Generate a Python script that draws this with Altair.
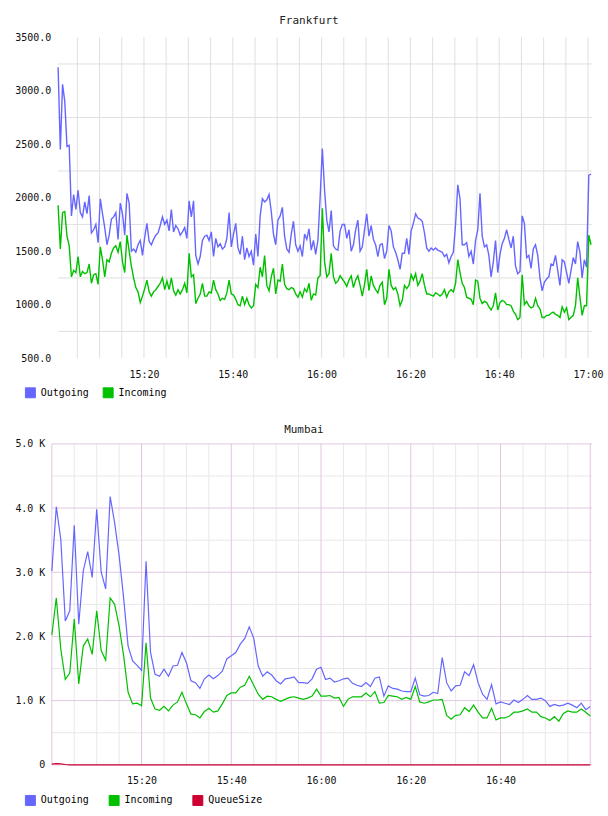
import altair as alt
import pandas as pd

FONT = "DejaVu Sans Mono"
TEXT = "#111111"
GRID = "#e0e0e0"
MINOR = "#e8e8e8"
PINK = "#e2c6e2"

COLORS = {"Outgoing": "#6666ff", "Incoming": "#00c000", "QueueSize": "#cc0033"}

# ---- Frankfurt: 30-second samples, first one at 15:00:40 ----
FRA_FIRST_MIN = 40 / 60
FRA_STEP_MIN = 0.5
FRA_OUT = [
    3220, 2450, 3060, 2900, 2480, 2490, 1830, 2030, 1890, 2070,
    1860, 1820, 1960, 1850, 2020, 1670, 1700, 1750, 1580, 1990,
    1850, 1720, 1560, 1650, 1800, 1820, 1860, 1610, 1950, 1850,
    1650, 2040, 1950, 1500, 1520, 1490, 1560, 1600, 1460, 1630,
    1760, 1590, 1560, 1610, 1650, 1670, 1740, 1820, 1750, 1790,
    1690, 1890, 1680, 1740, 1710, 1650, 1680, 1720, 1620, 1970,
    1820, 1970, 1460, 1380, 1450, 1600, 1640, 1650, 1600, 1680,
    1450, 1620, 1540, 1570, 1520, 1540, 1620, 1860, 1540, 1660,
    1760, 1530, 1470, 1640, 1420, 1530, 1450, 1500, 1370, 1660,
    1450, 1830, 1990, 1960, 1980, 2030, 1870, 1660, 1560, 1790,
    1830, 1910, 1640, 1520, 1490, 1660, 1780, 1560, 1500, 1550,
    1450, 1660, 1610, 1710, 1510, 1600, 1470, 1600, 2000, 2460,
    2070, 1790, 1680, 1880, 1550, 1520, 1510, 1690, 1750, 1750,
    1620, 1700, 1500, 1560, 1700, 1790, 1500, 1540, 1700, 1850,
    1640, 1740, 1610, 1560, 1450, 1560, 1570, 1430, 1500, 1740,
    1690, 1540, 1490, 1420, 1330, 1480, 1480, 1620, 1470, 1690,
    1760, 1850, 1810, 1800, 1780, 1670, 1530, 1500, 1530, 1510,
    1530, 1510, 1500, 1490, 1450, 1470, 1390, 1450, 1490, 1750,
    2120, 1990, 1560, 1560, 1580, 1450, 1500, 1380, 1600, 1700,
    2040, 1640, 1540, 1560, 1460, 1260, 1400, 1600, 1300, 1470,
    1570, 1620, 1700, 1610, 1530, 1640, 1360, 1290, 1310, 1830,
    1760, 1440, 1460, 1340, 1520, 1560, 1460, 1250, 1130, 1210,
    1240, 1260, 1380, 1370, 1460, 1320, 1180, 1420, 1400, 1300,
    1200, 1320, 1440, 1380, 1590, 1490, 1250, 1420, 1350, 2210,
    2220,
]
FRA_IN = [
    1930, 1520, 1860, 1870, 1640, 1550, 1260, 1320, 1300, 1450,
    1260, 1310, 1290, 1300, 1380, 1200, 1280, 1290, 1190, 1540,
    1420, 1260, 1420, 1400, 1480, 1530, 1550, 1490, 1590, 1400,
    1300, 1650, 1500, 1360, 1250, 1160, 1120, 1020, 1080, 1150,
    1230, 1120, 1080, 1120, 1140, 1170, 1200, 1250, 1140, 1220,
    1140, 1250, 1130, 1090, 1140, 1100, 1140, 1200, 1110, 1480,
    1260, 1280, 1010, 1060, 1100, 1200, 1080, 1080, 1120, 1110,
    1230, 1140, 1100, 1040, 1060, 1050, 1110, 1230, 1100, 1090,
    1050, 1000, 990, 1080, 1000, 1060, 1000, 970, 990, 1190,
    1160, 1350, 1260, 1460, 1180, 1130, 1260, 1340, 1100, 1230,
    1220, 1380, 1190, 1150, 1140, 1160, 1150, 1100, 1070, 1120,
    1070, 1150, 1120, 1200, 1040, 1100, 1090, 1250, 1270, 1900,
    1400, 1260, 1290, 1480, 1260, 1200, 1220, 1270, 1240, 1210,
    1170, 1230, 1270, 1160, 1230, 1270, 1180, 1080, 1190, 1330,
    1130, 1270, 1180, 1140, 1110, 1180, 1210, 1000, 1060, 1330,
    1180, 1140, 1160, 1100, 990, 1040, 1180, 1150, 1180, 1280,
    1230, 1290, 1180, 1220, 1290, 1180, 1100, 1100, 1090, 1080,
    1110, 1100, 1080, 1100, 1140, 1070, 1120, 1140, 1120, 1200,
    1420, 1300, 1200, 1160, 1070, 1060, 1050, 1000, 1230, 1220,
    1060, 1010, 1030, 1020, 980, 950, 990, 1110, 950, 1020,
    1040, 1030, 1000, 1000, 990, 940, 910, 860, 880, 1280,
    1000, 1030, 990, 970, 980, 1060, 990, 960, 880, 880,
    900, 900, 920, 930, 910, 900, 880, 980, 930, 970,
    860, 880, 900, 990, 1250, 1070, 900, 990, 990, 1650,
    1560,
]

# ---- Mumbai: 1-minute samples, first one at 15:00 ----
MUM_FIRST_MIN = 0
MUM_STEP_MIN = 1
MUM_OUT = [
    3020, 4020, 3510, 2240, 2400, 3730, 2190, 3020, 3320, 2920,
    3980, 3000, 2740, 4180, 3770, 3260, 2600, 1850, 1620, 1550,
    1470, 3170, 1750, 1410, 1380, 1490, 1380, 1540, 1550, 1750,
    1590, 1310, 1280, 1190, 1340, 1400, 1340, 1390, 1460, 1650,
    1700, 1750, 1880, 1970, 2150, 1970, 1540, 1380, 1450, 1400,
    1310, 1260, 1340, 1350, 1370, 1280, 1280, 1270, 1340, 1490,
    1520, 1330, 1350, 1290, 1310, 1340, 1350, 1270, 1240, 1220,
    1280, 1220, 1350, 1370, 1070, 1230, 1190, 1180, 1150, 1140,
    1140, 1350, 1090, 1070, 1080, 1130, 1110, 1670, 1280, 1150,
    1230, 1240, 1450, 1390, 1560, 1280, 1100, 1020, 1250, 950,
    980, 960, 940, 1010, 970, 1020, 1080, 1020, 1020, 1040,
    1000, 910, 940, 920, 930, 960, 930, 890, 960, 860,
    910,
]
MUM_IN = [
    2020, 2600, 1800, 1330, 1430, 2270, 1260, 1850, 1960, 1720,
    2400, 1780, 1630, 2600, 2500, 2160, 1700, 1130, 950, 960,
    920, 1900, 1040, 870, 850, 910, 840, 930, 980, 1130,
    950, 790, 780, 730, 830, 880, 820, 840, 950, 1080,
    1120, 1120, 1210, 1240, 1380, 1240, 1100, 1020, 1070, 1060,
    1020, 990, 1020, 1050, 1060, 1040, 1020, 1040, 1070, 1180,
    1070, 1070, 1080, 1040, 1050, 910, 1020, 1060, 1060, 1060,
    1120, 1060, 1140, 960, 970, 1080, 1070, 1060, 1020, 1050,
    1020, 1220, 980, 960, 980, 1010, 1010, 1020, 770, 710,
    770, 780, 890, 830, 930, 820, 730, 730, 880, 700,
    730, 730, 760, 820, 820, 840, 870, 820, 820, 750,
    730, 690, 750, 680, 800, 840, 820, 820, 870, 820,
    760,
]
MUM_QUEUE = [
    10, 20, 15, 5, 0, 0, 0, 0, 0, 0,
    0, 0, 0, 0, 0, 0, 0, 0, 0, 0,
    0, 0, 0, 0, 0, 0, 0, 0, 0, 0,
    0, 0, 0, 0, 0, 0, 0, 0, 0, 0,
    0, 0, 0, 0, 0, 0, 0, 0, 0, 0,
    0, 0, 0, 0, 0, 0, 0, 0, 0, 0,
    0, 0, 0, 0, 0, 0, 0, 0, 0, 0,
    0, 0, 0, 0, 0, 0, 0, 0, 0, 0,
    0, 0, 0, 0, 0, 0, 0, 0, 0, 0,
    0, 0, 0, 0, 0, 0, 0, 0, 0, 0,
    0, 0, 0, 0, 0, 0, 0, 0, 0, 0,
    0, 0, 0, 0, 0, 0, 0, 0, 0, 0,
    0,
]

# Axis ticks and grid positions (minutes after 15:00 on x)
FRA_X_DOMAIN = [0.6, 120.9]
FRA_X_LABELS = [20, 40, 60, 80, 100, 120]
FRA_X_GRID = [5, 10, 15, 20, 25, 30, 35, 40, 45, 50, 55, 60, 65, 70, 75, 80,
              85, 90, 95, 100, 105, 110, 115, 120]
FRA_Y_LABELS = [500, 1000, 1500, 2000, 2500, 3000, 3500]
FRA_Y_GRID = [750, 1250, 1750, 2250, 2750, 3250]

MUM_X_DOMAIN = [0, 120.4]
MUM_X_LABELS = [20, 40, 60, 80, 100]
MUM_X_MAJOR = [0, 20, 40, 60, 80, 100, 120]
MUM_X_MINOR = [5, 10, 15, 25, 30, 35, 45, 50, 55, 65, 70, 75, 85, 90, 95, 105, 110, 115]
MUM_Y_LABELS = [0, 1000, 2000, 3000, 4000, 5000]
MUM_Y_MAJOR = [0, 1000, 2000, 3000, 4000, 5000]
MUM_Y_MINOR = [500, 1500, 2500, 3500, 4500]

CLOCK = ("(15 + floor(datum.value / 60)) + ':' + "
         "(datum.value % 60 < 10 ? '0' : '') + (datum.value % 60)")

PANEL_WIDTH = 542
PANEL_HEIGHT = 322


def long_frame(first, step, series):
    parts = []
    for name, values in series:
        minutes = [first + step * i for i in range(len(values))]
        parts.append(pd.DataFrame({"t": minutes, "series": name, "value": values}))
    return pd.concat(parts, ignore_index=True)


fra_df = long_frame(FRA_FIRST_MIN, FRA_STEP_MIN, [("Outgoing", FRA_OUT), ("Incoming", FRA_IN)])
mum_df = long_frame(MUM_FIRST_MIN, MUM_STEP_MIN, [("Outgoing", MUM_OUT), ("Incoming", MUM_IN),
                                                  ("QueueSize", MUM_QUEUE)])

label_style = dict(labelFont=FONT, labelFontSize=10, labelColor=TEXT, labelOverlap=False,
                   ticks=False, tickSize=0, domain=False, grid=False, title="")


def key_legend(x, y, pad):
    return alt.Legend(title="", orient="none", legendX=x, legendY=y, direction="horizontal",
                      symbolType="square", symbolSize=100, symbolOpacity=1,
                      symbolStrokeColor="#999999", symbolStrokeWidth=1,
                      labelFont=FONT, labelFontSize=10, labelColor="#000000",
                      labelOffset=5, columnPadding=pad, padding=0, offset=0)


def panel_title(text, offset):
    return alt.TitleParams(text=text, font=FONT, fontSize=11, fontWeight="normal", color="#222222",
                           anchor="middle", frame="bounds", baseline="alphabetic", offset=offset)


def panel(df, names, x_domain, x_inset, y_domain, x_labels, y_labels, y_label_expr, y_format,
          y_pad, grids, x_pad, legend_pos, col_pad, line_width, title_text, title_offset):
    scale = alt.Scale(domain=names, range=[COLORS[n] for n in names])
    # the plotting band starts x_inset pixels into the panel
    xs = alt.Scale(domain=x_domain, range=[x_inset, PANEL_WIDTH], nice=False, zero=False)
    ys = alt.Scale(domain=y_domain, nice=False, zero=False)
    x_axis = alt.Axis(values=x_labels, labelExpr=CLOCK, labelPadding=x_pad, labelFlush=False,
                      **label_style)
    y_kwargs = dict(values=y_labels, labelPadding=y_pad, **label_style)
    if y_label_expr:
        y_kwargs["labelExpr"] = y_label_expr
    else:
        y_kwargs["format"] = y_format
    y_axis = alt.Axis(**y_kwargs)

    def rules(values, channel, color):
        frame = pd.DataFrame({"v": values})
        if channel == "x":
            enc = {"x": alt.X("v:Q", scale=xs, axis=x_axis)}
        else:
            enc = {"y": alt.Y("v:Q", scale=ys, axis=y_axis),
                   "x": alt.X(datum=x_domain[0], type="quantitative", scale=xs, axis=x_axis),
                   "x2": alt.X2(datum=x_domain[1])}
        return alt.Chart(frame).mark_rule(color=color, strokeWidth=1).encode(**enc)

    grid_layers = [rules(v, ch, c) for v, ch, c in grids]
    keys = alt.Chart(df).mark_square(opacity=0).encode(
        x=alt.X("t:Q", scale=xs, axis=x_axis),
        y=alt.Y("value:Q", scale=ys, axis=y_axis),
        color=alt.Color("series:N", scale=scale,
                        legend=key_legend(legend_pos[0], legend_pos[1], col_pad)))
    lines = alt.Chart(df).mark_line(strokeWidth=line_width).encode(
        x=alt.X("t:Q", scale=xs, axis=x_axis),
        y=alt.Y("value:Q", scale=ys, axis=y_axis),
        color=alt.Color("series:N", scale=scale, legend=None))
    return alt.layer(*grid_layers, keys, lines).properties(
        width=PANEL_WIDTH, height=PANEL_HEIGHT, title=panel_title(title_text, title_offset))


frankfurt = panel(
    fra_df, ["Outgoing", "Incoming"], FRA_X_DOMAIN, 6, [500, 3500], FRA_X_LABELS, FRA_Y_LABELS,
    "", ".1f", 1,
    [(FRA_X_GRID, "x", GRID), (FRA_Y_GRID, "y", GRID)],
    11, (-27, 351), 11, 1.4, "Frankfurt", -3)

mumbai = panel(
    mum_df, ["Outgoing", "Incoming", "QueueSize"], MUM_X_DOMAIN, 0, [0, 5000], MUM_X_LABELS,
    MUM_Y_LABELS, "datum.value === 0 ? '0' : format(datum.value / 1000, '.1f') + ' K'", "", 7,
    [(MUM_X_MINOR, "x", MINOR), (MUM_Y_MINOR, "y", MINOR),
     (MUM_X_MAJOR, "x", PINK), (MUM_Y_MAJOR, "y", PINK)],
    11, (-27, 352), 17, 1.2, "Mumbai", -5)

chart = alt.concat(frankfurt, mumbai, columns=1, spacing=22).resolve_scale(
    color="independent"
).resolve_legend(
    color="independent"
).properties(
    padding={"left": 14, "top": 13, "right": 4, "bottom": 4},
    background="#ffffff",
).configure_view(stroke="transparent")

chart.save("out.html", embed_options={"renderer": "svg", "actions": False})
